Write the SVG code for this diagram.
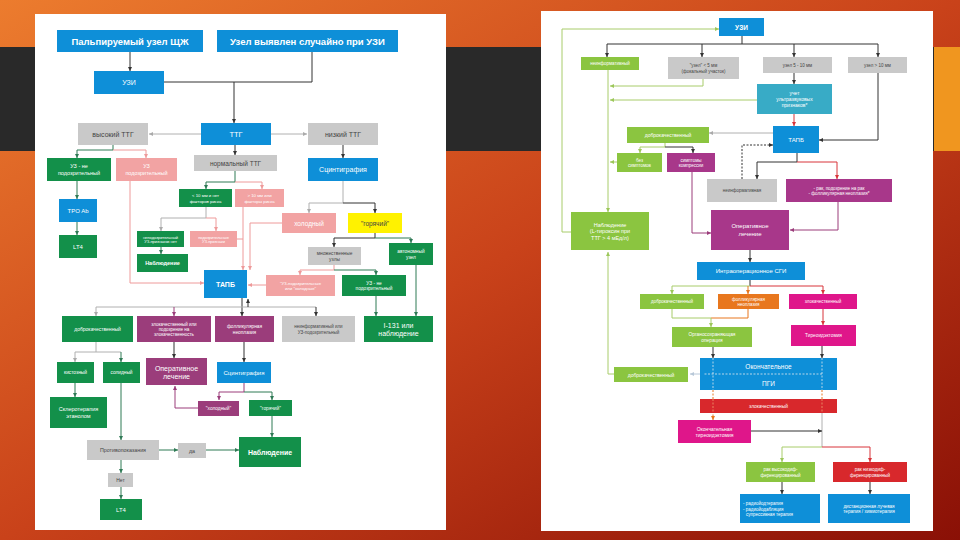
<svg xmlns="http://www.w3.org/2000/svg" width="960" height="540" viewBox="0 0 960 540">
<defs>
<linearGradient id="bg" x1="0" y1="0" x2="1" y2="1">
<stop offset="0" stop-color="#ec7c2e"/><stop offset="0.5" stop-color="#c9421a"/><stop offset="1" stop-color="#8a1006"/>
</linearGradient>
<marker id="ak" viewBox="0 0 10 10" refX="10" refY="5" markerWidth="4" markerHeight="4" markerUnits="userSpaceOnUse" orient="auto"><path d="M0,0 L10,5 L0,10z" fill="#333"/></marker>
<marker id="ag" viewBox="0 0 10 10" refX="10" refY="5" markerWidth="4" markerHeight="4" markerUnits="userSpaceOnUse" orient="auto"><path d="M0,0 L10,5 L0,10z" fill="#aaa"/></marker>
<marker id="ap" viewBox="0 0 10 10" refX="10" refY="5" markerWidth="4" markerHeight="4" markerUnits="userSpaceOnUse" orient="auto"><path d="M0,0 L10,5 L0,10z" fill="#ee9a9a"/></marker>
<marker id="al" viewBox="0 0 10 10" refX="10" refY="5" markerWidth="4" markerHeight="4" markerUnits="userSpaceOnUse" orient="auto"><path d="M0,0 L10,5 L0,10z" fill="#9cc75a"/></marker>
<marker id="adg" viewBox="0 0 10 10" refX="10" refY="5" markerWidth="4" markerHeight="4" markerUnits="userSpaceOnUse" orient="auto"><path d="M0,0 L10,5 L0,10z" fill="#2f7a55"/></marker>
<marker id="au" viewBox="0 0 10 10" refX="10" refY="5" markerWidth="4" markerHeight="4" markerUnits="userSpaceOnUse" orient="auto"><path d="M0,0 L10,5 L0,10z" fill="#9b3d7b"/></marker>
<marker id="ar" viewBox="0 0 10 10" refX="10" refY="5" markerWidth="4" markerHeight="4" markerUnits="userSpaceOnUse" orient="auto"><path d="M0,0 L10,5 L0,10z" fill="#d8343a"/></marker>
<marker id="ao" viewBox="0 0 10 10" refX="10" refY="5" markerWidth="4" markerHeight="4" markerUnits="userSpaceOnUse" orient="auto"><path d="M0,0 L10,5 L0,10z" fill="#e8771e"/></marker>
<marker id="aw" viewBox="0 0 10 10" refX="10" refY="5" markerWidth="4" markerHeight="4" markerUnits="userSpaceOnUse" orient="auto"><path d="M0,0 L10,5 L0,10z" fill="#b8c8d8"/></marker>
</defs>
<style>
text{font-family:"Liberation Sans",Arial,sans-serif;text-anchor:middle;dominant-baseline:central;fill:#fff;font-size:5px}
.k{fill:#444}
.bd{font-weight:bold}
.b{fill:#0e8fd8}.g{fill:#13904a}.lg{fill:#8bc540}.p{fill:#f2a3a3}.gr{fill:#c9c9c9}.pu{fill:#9b3d7b}.m{fill:#df168a}.y{fill:#fff200}.t{fill:#38abc6}.o{fill:#e8771e}.r{fill:#d8282c}.pr{fill:#a8378a}
#conn path{fill:none;stroke-width:1}
.sk{stroke:#333}.sg{stroke:#b0b0b0}.sp{stroke:#ee9a9a}.sl{stroke:#a8cc6a}.sdg{stroke:#2f7a55}.su{stroke:#9b3d7b}.sr{stroke:#d8343a}.so{stroke:#e8771e}
</style>
<rect width="960" height="540" fill="url(#bg)"/>
<rect x="0" y="47" width="934" height="104" fill="#292929"/>
<rect x="934" y="47" width="26" height="104" fill="#f0961f"/>
<rect x="35" y="14" width="411" height="516" fill="#fff"/>
<rect x="541" y="11" width="392" height="520" fill="#fff"/>

<g id="conn">
<path class="sk" d="M130 52V71" marker-end="url(#ak)"/>
<path class="sk" d="M164 82H312V52"/>
<path class="sk" d="M234 82V123" marker-end="url(#ak)"/>
<path class="sg" d="M201 134H149" marker-end="url(#ag)"/>
<path class="sg" d="M271 134H307" marker-end="url(#ag)"/>
<path class="sk" d="M235 145V155" marker-end="url(#ak)"/>
<path class="sdg" d="M113 145V150H77V158" marker-end="url(#adg)"/>
<path class="sp" d="M113 150H146V158" marker-end="url(#ap)"/>
<path class="sk" d="M343 145V158" marker-end="url(#ak)"/>
<path class="sdg" d="M77 181V199" marker-end="url(#adg)"/>
<path class="sdg" d="M77 222V235" marker-end="url(#adg)"/>
<path class="sdg" d="M235 171V182H206V189" marker-end="url(#adg)"/>
<path class="sp" d="M235 182H262V189" marker-end="url(#ap)"/>
<path class="sp" d="M130 181V283H204" marker-end="url(#ap)"/>
<path class="sg" d="M206 207V218H161V231" marker-end="url(#ag)"/>
<path class="sp" d="M206 218H216V231" marker-end="url(#ap)"/>
<path class="sdg" d="M161 247V254" marker-end="url(#adg)"/>
<path class="sp" d="M243 207V270" marker-end="url(#ap)"/>
<path class="sp" d="M237 239H243"/>
<path class="sp" d="M282 223H250V270" marker-end="url(#ap)"/>
<path class="sg" d="M343 181V203H309V213" marker-end="url(#ag)"/>
<path class="sk" d="M343 203H375V213" marker-end="url(#ak)"/>
<path class="sk" d="M375 233V238H334V247" marker-end="url(#ak)"/>
<path class="sdg" d="M375 238H411V243" marker-end="url(#adg)"/>
<path class="sp" d="M334 265V270H300V275" marker-end="url(#ap)"/>
<path class="sdg" d="M334 270H376V275" marker-end="url(#adg)"/>
<path class="sp" d="M266 285H248" marker-end="url(#ap)"/>
<path class="sdg" d="M376 296V316" marker-end="url(#adg)"/>
<path class="sdg" d="M416 265V316" marker-end="url(#adg)"/>
<path class="sk" d="M242 298V316" marker-end="url(#ak)"/>
<path class="sg" d="M96 307H316"/>
<path class="sg" d="M96 307V316" marker-end="url(#ag)"/>
<path class="su" d="M174 307V316" marker-end="url(#au)"/>
<path class="sk" d="M316 307V316" marker-end="url(#ak)"/>
<path class="sk" d="M248 307V299" marker-end="url(#ak)"/>
<path class="sg" d="M96 342V352"/>
<path class="sg" d="M75 352H121"/>
<path class="sg" d="M75 352V362" marker-end="url(#ag)"/>
<path class="sdg" d="M121 352V362" marker-end="url(#adg)"/>
<path class="sdg" d="M75 383V397" marker-end="url(#adg)"/>
<path class="sdg" d="M121 383V440" marker-end="url(#adg)"/>
<path class="sk" d="M174 342V358" marker-end="url(#ak)"/>
<path class="sk" d="M244 342V362" marker-end="url(#ak)"/>
<path class="su" d="M244 383V392H219V400" marker-end="url(#au)"/>
<path class="sdg" d="M244 392H272V400" marker-end="url(#adg)"/>
<path class="su" d="M198 408H175V386" marker-end="url(#au)"/>
<path class="sdg" d="M272 416V437" marker-end="url(#adg)"/>
<path class="sdg" d="M159 450H178" marker-end="url(#adg)"/>
<path class="sdg" d="M206 450H239" marker-end="url(#adg)"/>
<path class="sdg" d="M121 460V473" marker-end="url(#adg)"/>
<path class="sdg" d="M121 487V499" marker-end="url(#adg)"/>
<path class="sl" d="M571 232H562V29H719" marker-end="url(#al)"/>
<path class="sk" d="M742 36V44"/>
<path class="sk" d="M607 44H878"/>
<path class="sk" d="M607 44V57" marker-end="url(#ak)"/>
<path class="sk" d="M702 44V57" marker-end="url(#ak)"/>
<path class="sk" d="M794 44V57" marker-end="url(#ak)"/>
<path class="sk" d="M878 44V57" marker-end="url(#ak)"/>
<path class="sl" d="M608 70V212" marker-end="url(#al)"/>
<path class="sl" d="M703 79V86H610" marker-end="url(#al)"/>
<path class="sl" d="M757 100H610" marker-end="url(#al)"/>
<path class="sk" d="M794 73V84" marker-end="url(#ak)"/>
<path class="sr" d="M794 114V126" marker-end="url(#ar)"/>
<path class="sk" d="M878 73V140H819" marker-end="url(#ak)"/>
<path class="sg" d="M773 133H709" marker-end="url(#ag)"/>
<path class="sk" d="M742 179V145H773" stroke-dasharray="2 1.5" marker-end="url(#ak)"/>
<path class="sl" d="M665 143V147H640V153" marker-end="url(#al)"/>
<path class="sk" d="M665 147H693V153" marker-end="url(#ak)"/>
<path class="sl" d="M617 162H610" marker-end="url(#al)"/>
<path class="su" d="M692 172V233H711" marker-end="url(#au)"/>
<path class="sk" d="M797 153V162H757V179" marker-end="url(#ak)"/>
<path class="sr" d="M797 162H837V179" marker-end="url(#ar)"/>
<path class="su" d="M838 202V230H790" marker-end="url(#au)"/>
<path class="sk" d="M750 250V262" marker-end="url(#ak)"/>
<path class="sk" d="M750 280V286"/>
<path class="sl" d="M672 286H750"/>
<path class="sr" d="M750 286H823"/>
<path class="sl" d="M672 286V294" marker-end="url(#al)"/>
<path class="so" d="M748 286V294" marker-end="url(#ao)"/>
<path class="sr" d="M823 286V294" marker-end="url(#ar)"/>
<path class="sl" d="M672 309V318H711"/>
<path class="so" d="M748 309V318H711"/>
<path class="sl" d="M711 318V327" marker-end="url(#al)"/>
<path class="sr" d="M823 309V325" marker-end="url(#ar)"/>
<path class="sk" d="M713 347V358" marker-end="url(#ak)"/>
<path class="sk" d="M822 346V358" marker-end="url(#ak)"/>
<path class="sl" d="M614 374H608V252" marker-end="url(#al)"/>
<path class="so" d="M713 390V420" stroke-dasharray="2 1.5" marker-end="url(#ao)"/>
<path class="so" d="M822 390V413" stroke-dasharray="2 1.5"/>
<path class="sg" d="M822 413V447"/>
<path class="sk" d="M751 431H822" marker-end="url(#ak)"/>
<path class="sl" d="M822 447H782V462" marker-end="url(#al)"/>
<path class="sr" d="M822 447H870V462" marker-end="url(#ar)"/>
<path class="sk" d="M782 482V494" marker-end="url(#ak)"/>
<path class="sk" d="M870 482V494" marker-end="url(#ak)"/>
<path d="M702 374H690" stroke="#b8c8d8" stroke-width="0.8" marker-end="url(#aw)"/>
</g>

<g id="l_palp"><rect class="b" x="57" y="30" width="146" height="22"/><text x="130" y="41" class="bd" style="font-size:9.5px">Пальпируемый узел ЩЖ</text></g>
<g id="l_sluch"><rect class="b" x="217" y="30" width="181" height="22"/><text x="307.5" y="41" class="bd" style="font-size:9.5px">Узел выявлен случайно при УЗИ</text></g>
<g id="l_uzi"><rect class="b" x="94" y="71" width="70" height="23"/><text x="129" y="82.5" style="font-size:7px">УЗИ</text></g>
<g id="l_high"><rect class="gr" x="78" y="123" width="70" height="22"/><text x="113" y="134" class="k" style="font-size:7px">высокий ТТГ</text></g>
<g id="l_ttg"><rect class="b" x="201" y="123" width="70" height="22"/><text x="236" y="134" style="font-size:7.5px">ТТГ</text></g>
<g id="l_low"><rect class="gr" x="308" y="123" width="70" height="22"/><text x="343" y="134" class="k" style="font-size:7px">низкий ТТГ</text></g>
<g id="l_norm"><rect class="gr" x="194" y="155" width="83" height="16"/><text x="235.5" y="163" class="k" style="font-size:6.5px">нормальный ТТГ</text></g>
<g id="l_uzne"><rect class="g" x="47" y="158" width="64" height="23"/><text x="79" y="169.5" style="font-size:5.5px"><tspan x="79" dy="-3.3">УЗ - не</tspan><tspan x="79" dy="6.6">подозрительный</tspan></text></g>
<g id="l_uzpod"><rect class="p" x="116" y="158" width="61" height="23"/><text x="146.5" y="169.5" style="font-size:5.5px"><tspan x="146.5" dy="-3.3">УЗ</tspan><tspan x="146.5" dy="6.6">подозрительный</tspan></text></g>
<g id="l_scint"><rect class="b" x="308" y="158" width="70" height="23"/><text x="343" y="169.5" style="font-size:7px">Сцинтиграфия</text></g>
<g id="l_tpo"><rect class="b" x="59" y="199" width="38" height="23"/><text x="78" y="210.5" style="font-size:6px">TPO Ab</text></g>
<g id="l_lt4a"><rect class="g" x="59" y="235" width="38" height="23"/><text x="78" y="246.5" style="font-size:6px">LT4</text></g>
<g id="l_lt10"><rect class="g" x="179" y="189" width="53" height="18"/><text x="205.5" y="198" style="font-size:4.3px"><tspan x="205.5" dy="-2.6">&lt; 10 мм и нет</tspan><tspan x="205.5" dy="5.2">факторов риска</tspan></text></g>
<g id="l_gt10"><rect class="p" x="235" y="189" width="49" height="18"/><text x="259.5" y="198" style="font-size:4.3px"><tspan x="259.5" dy="-2.6">&gt; 10 мм или</tspan><tspan x="259.5" dy="5.2">факторы риска</tspan></text></g>
<g id="l_cold"><rect class="p" x="282" y="213" width="54" height="20"/><text x="309" y="223" style="font-size:6.5px">холодный</text></g>
<g id="l_hot"><rect class="y" x="348" y="213" width="54" height="20"/><text x="375" y="223" class="k" style="font-size:6.5px">"горячий"</text></g>
<g id="l_nepod"><rect class="g" x="137" y="231" width="47" height="16"/><text x="160.5" y="239" style="font-size:4px"><tspan x="160.5" dy="-2.4">неподозрительный</tspan><tspan x="160.5" dy="4.8">УЗ-признаков нет</tspan></text></g>
<g id="l_podpr"><rect class="p" x="190" y="231" width="47" height="16"/><text x="213.5" y="239" style="font-size:4px"><tspan x="213.5" dy="-2.4">подозрительные</tspan><tspan x="213.5" dy="4.8">УЗ-признаки</tspan></text></g>
<g id="l_nabl1"><rect class="g" x="137" y="254" width="51" height="18"/><text x="162.5" y="263" class="bd" style="font-size:5.5px">Наблюдение</text></g>
<g id="l_mnog"><rect class="gr" x="308" y="247" width="53" height="18"/><text x="334.5" y="256" class="k" style="font-size:4.8px"><tspan x="334.5" dy="-2.8">множественные</tspan><tspan x="334.5" dy="5.6">узлы</tspan></text></g>
<g id="l_avt"><rect class="g" x="389" y="243" width="44" height="22"/><text x="411" y="254" style="font-size:4.8px"><tspan x="411" dy="-2.8">автономный</tspan><tspan x="411" dy="5.6">узел</tspan></text></g>
<g id="l_tapb"><rect class="b" x="204" y="270" width="43" height="28"/><text x="225.5" y="284" class="bd" style="font-size:7px">ТАПБ</text></g>
<g id="l_uzhol"><rect class="p" x="266" y="275" width="69" height="21"/><text x="300.5" y="285.5" style="font-size:4.3px"><tspan x="300.5" dy="-2.6">"УЗ-подозрительные</tspan><tspan x="300.5" dy="5.2">или "холодные"</tspan></text></g>
<g id="l_uzne2"><rect class="g" x="342" y="275" width="64" height="21"/><text x="374" y="285.5" style="font-size:4.8px"><tspan x="374" dy="-2.8">УЗ - не</tspan><tspan x="374" dy="5.6">подозрительный</tspan></text></g>
<g id="l_i131"><rect class="g" x="364" y="316" width="69" height="26"/><text x="398.5" y="329" style="font-size:7px"><tspan x="398.5" dy="-4">I-131 или</tspan><tspan x="398.5" dy="8">наблюдение</tspan></text></g>
<g id="l_dobr"><rect class="g" x="62" y="316" width="71" height="26"/><text x="97.5" y="329" style="font-size:5px">доброкачественный</text></g>
<g id="l_zlok"><rect class="pu" x="137" y="316" width="74" height="26"/><text x="174" y="329" style="font-size:4.5px"><tspan x="174" dy="-5.4">злокачественный или</tspan><tspan x="174" dy="5.4">подозрение на</tspan><tspan x="174" dy="5.4">злокачественность</tspan></text></g>
<g id="l_foll"><rect class="pu" x="215" y="316" width="59" height="26"/><text x="244.5" y="329" style="font-size:4.8px"><tspan x="244.5" dy="-2.9">фолликулярная</tspan><tspan x="244.5" dy="5.8">неоплазия</tspan></text></g>
<g id="l_neinf"><rect class="gr" x="282" y="316" width="73" height="26"/><text x="318.5" y="329" class="k" style="font-size:4.5px"><tspan x="318.5" dy="-2.8">неинформативный или</tspan><tspan x="318.5" dy="5.6">УЗ-подозрительный</tspan></text></g>
<g id="l_kist"><rect class="g" x="57" y="362" width="37" height="21"/><text x="75.5" y="372.5" style="font-size:4.8px">кистозный</text></g>
<g id="l_sol"><rect class="g" x="103" y="362" width="37" height="21"/><text x="121.5" y="372.5" style="font-size:4.8px">солидный</text></g>
<g id="l_oper"><rect class="pu" x="146" y="358" width="61" height="27"/><text x="176.5" y="371.5" style="font-size:7px"><tspan x="176.5" dy="-4">Оперативное</tspan><tspan x="176.5" dy="8">лечение</tspan></text></g>
<g id="l_scint2"><rect class="b" x="217" y="362" width="54" height="21"/><text x="244" y="372.5" style="font-size:6px">Сцинтиграфия</text></g>
<g id="l_skl"><rect class="g" x="50" y="397" width="57" height="31"/><text x="78.5" y="412.5" style="font-size:5.5px"><tspan x="78.5" dy="-3.3">Склеротерапия</tspan><tspan x="78.5" dy="6.6">этанолом</tspan></text></g>
<g id="l_cold2"><rect class="pu" x="198" y="401" width="41" height="15"/><text x="218.5" y="408.5" style="font-size:4.8px">"холодный"</text></g>
<g id="l_hot2"><rect class="g" x="249" y="400" width="43" height="16"/><text x="270.5" y="408" style="font-size:4.8px">"горячий"</text></g>
<g id="l_prot"><rect class="gr" x="87" y="440" width="72" height="20"/><text x="123" y="450" class="k" style="font-size:5.3px">Противопоказания</text></g>
<g id="l_da"><rect class="gr" x="178" y="443" width="28" height="15"/><text x="192" y="450.5" class="k" style="font-size:5.3px">да</text></g>
<g id="l_nabl2"><rect class="g" x="239" y="437" width="62" height="30"/><text x="270" y="452" class="bd" style="font-size:7px">Наблюдение</text></g>
<g id="l_net"><rect class="gr" x="108" y="473" width="25" height="14"/><text x="120.5" y="480" class="k" style="font-size:5px">Нет</text></g>
<g id="l_lt4b"><rect class="g" x="100" y="499" width="42" height="21"/><text x="121" y="509.5" style="font-size:6px">LT4</text></g>

<g id="r_uzi"><rect class="b" x="719" y="18" width="45" height="18"/><text x="741.5" y="27" class="bd" style="font-size:6.5px">УЗИ</text></g>
<g id="r_neinf"><rect class="lg" x="581" y="57" width="58" height="13"/><text x="610" y="63.5" style="font-size:4.5px">неинформативный</text></g>
<g id="r_lt5"><rect class="gr" x="668" y="57" width="71" height="22"/><text x="703.5" y="68" class="k" style="font-size:4.5px"><tspan x="703.5" dy="-2.7">"узел" &lt; 5 мм</tspan><tspan x="703.5" dy="5.4">(фокальный участок)</tspan></text></g>
<g id="r_510"><rect class="gr" x="763" y="57" width="69" height="16"/><text x="797.5" y="65" class="k" style="font-size:4.5px">узел 5 - 10 мм</text></g>
<g id="r_gt10"><rect class="gr" x="848" y="57" width="59" height="16"/><text x="877.5" y="65" class="k" style="font-size:4.5px">узел &gt; 10 мм</text></g>
<g id="r_uchet"><rect class="t" x="757" y="84" width="75" height="30"/><text x="794.5" y="99" style="font-size:5px"><tspan x="794.5" dy="-6">учет</tspan><tspan x="794.5" dy="6">ультразвуковых</tspan><tspan x="794.5" dy="6">признаков*</tspan></text></g>
<g id="r_tapb"><rect class="b" x="773" y="126" width="46" height="27"/><text x="796" y="139.5" style="font-size:6px">ТАПБ</text></g>
<g id="r_dobr"><rect class="lg" x="627" y="127" width="82" height="16"/><text x="668" y="135" style="font-size:5px">доброкачественный</text></g>
<g id="r_bez"><rect class="lg" x="617" y="153" width="45" height="19"/><text x="639.5" y="162.5" style="font-size:4.5px"><tspan x="639.5" dy="-2.7">без</tspan><tspan x="639.5" dy="5.4">симптомов</tspan></text></g>
<g id="r_simpt"><rect class="pr" x="667" y="153" width="48" height="19"/><text x="691" y="162.5" style="font-size:4.5px"><tspan x="691" dy="-2.7">симптомы</tspan><tspan x="691" dy="5.4">компрессии</tspan></text></g>
<g id="r_neinf2"><rect class="gr" x="707" y="179" width="70" height="23"/><text x="742" y="190.5" class="k" style="font-size:4.5px">неинформативная</text></g>
<g id="r_rak"><rect class="pr" x="786" y="179" width="106" height="23"/><text x="839" y="190.5" style="font-size:4.5px"><tspan x="839" dy="-2.7">- рак, подозрение на рак</tspan><tspan x="839" dy="5.4">- фолликулярная неоплазия*</tspan></text></g>
<g id="r_nabl"><rect class="lg" x="571" y="212" width="78" height="38"/><text x="610" y="231" style="font-size:5.5px"><tspan x="610" dy="-6.5">Наблюдение</tspan><tspan x="610" dy="6.5">(L-тироксин при</tspan><tspan x="610" dy="6.5">ТТГ &gt; 4 мЕд/л)</tspan></text></g>
<g id="r_oper"><rect class="pr" x="711" y="210" width="78" height="40"/><text x="750" y="230" style="font-size:6px"><tspan x="750" dy="-3.6">Оперативное</tspan><tspan x="750" dy="7.2">лечение</tspan></text></g>
<g id="r_intra"><rect class="b" x="697" y="262" width="108" height="18"/><text x="751" y="271" style="font-size:6px">Интраоперационное СГИ</text></g>
<g id="r_dobr2"><rect class="lg" x="640" y="294" width="64" height="15"/><text x="672" y="301.5" style="font-size:4.5px">доброкачественный</text></g>
<g id="r_foll"><rect class="o" x="718" y="294" width="61" height="15"/><text x="748.5" y="301.5" style="font-size:4.5px"><tspan x="748.5" dy="-2.5">фолликулярная</tspan><tspan x="748.5" dy="5">неоплазия</tspan></text></g>
<g id="r_zlok"><rect class="m" x="789" y="294" width="68" height="15"/><text x="823" y="301.5" style="font-size:4.5px">злокачественный</text></g>
<g id="r_organ"><rect class="lg" x="672" y="327" width="80" height="20"/><text x="712" y="337" style="font-size:4.8px"><tspan x="712" dy="-2.8">Органосохраняющая</tspan><tspan x="712" dy="5.6">операция</tspan></text></g>
<g id="r_tire"><rect class="m" x="791" y="325" width="65" height="21"/><text x="823.5" y="335.5" style="font-size:4.8px">Тиреоидэктомия</text></g>
<g id="r_pgi"><rect class="b" x="700" y="358" width="137" height="32"/><text x="768.5" y="366" style="font-size:6.5px">Окончательное</text><text x="768.5" y="383" style="font-size:6.5px">ПГИ</text>
<path d="M713 358V390M822 358V390M822 374H703" fill="none" stroke="#dfe8f0" stroke-width="0.8" stroke-dasharray="2 1.5"/></g>
<g id="r_dobr3"><rect class="lg" x="614" y="367" width="74" height="15"/><text x="651" y="374.5" style="font-size:5px">доброкачественный</text></g>
<g id="r_zlok2"><rect class="r" x="700" y="399" width="137" height="14"/><text x="768.5" y="406" style="font-size:4.8px">злокачественный</text>
<path d="M713 399V413M822 399V413" fill="none" stroke="#f0a070" stroke-width="0.8" stroke-dasharray="2 1.5"/></g>
<g id="r_okt"><rect class="m" x="678" y="420" width="73" height="23"/><text x="714.5" y="431.5" style="font-size:5px"><tspan x="714.5" dy="-3">Окончательная</tspan><tspan x="714.5" dy="6">тиреоидэктомия</tspan></text></g>
<g id="r_vys"><rect class="lg" x="746" y="462" width="69" height="20"/><text x="780.5" y="472" style="font-size:4.6px"><tspan x="780.5" dy="-2.8">рак высокодиф-</tspan><tspan x="780.5" dy="5.6">ференцированный</tspan></text></g>
<g id="r_niz"><rect class="r" x="833" y="462" width="74" height="20"/><text x="870" y="472" style="font-size:4.6px"><tspan x="870" dy="-2.8">рак низкодиф-</tspan><tspan x="870" dy="5.6">ференцированный</tspan></text></g>
<g id="r_rit"><rect class="b" x="740" y="494" width="80" height="29"/><text x="742" y="508.5" style="font-size:4.5px;text-anchor:start"><tspan x="743" dy="-5.4">- радиойодтерапия</tspan><tspan x="743" dy="5.4">- радиойодабляция</tspan><tspan x="746" dy="5.4">супрессивная терапия</tspan></text></g>
<g id="r_dlt"><rect class="b" x="828" y="494" width="82" height="29"/><text x="869" y="508.5" style="font-size:4.6px"><tspan x="869" dy="-2.8">дистанционная лучевая</tspan><tspan x="869" dy="5.6">терапия / химиотерапия</tspan></text></g>
</svg>
